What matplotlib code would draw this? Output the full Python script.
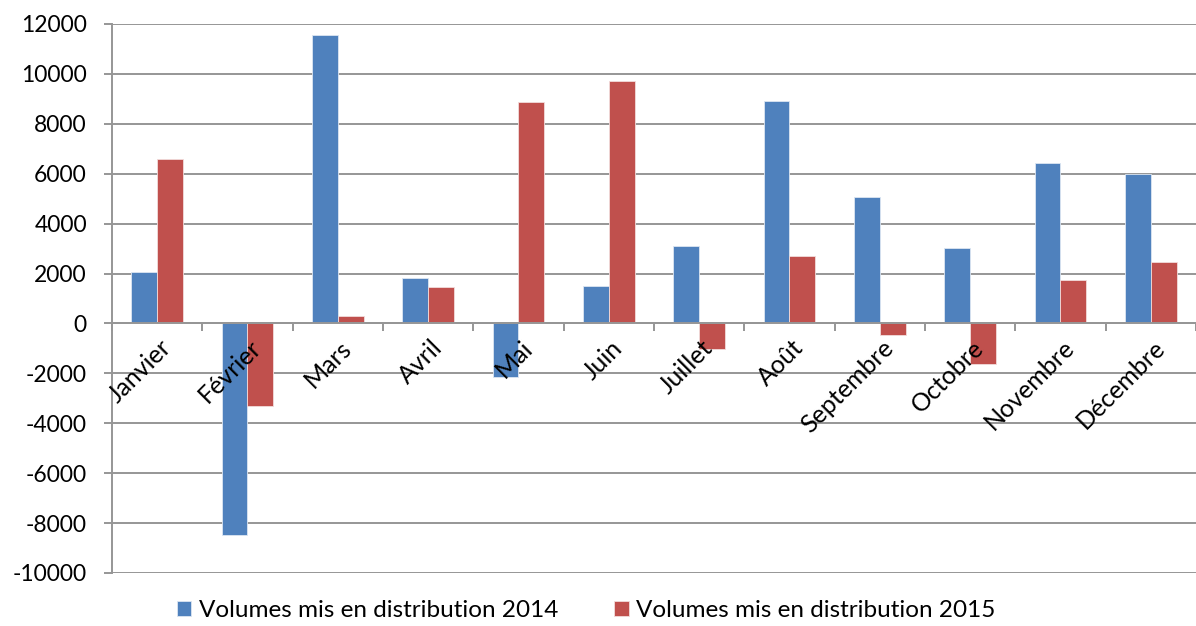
import matplotlib
matplotlib.use("Agg")
import matplotlib.pyplot as plt
import matplotlib.transforms as mtransforms
import numpy as np

months = ["Janvier", "Février", "Mars", "Avril", "Mai", "Juin", "Juillet",
          "Août", "Septembre", "Octobre", "Novembre", "Décembre"]
vol_2014 = [2070, -8480, 11560, 1820, -2140, 1480, 3090, 8930, 5070, 3020, 6420, 5970]
vol_2015 = [6600, -3320, 290, 1460, 8860, 9700, -1015, 2710, -480, -1630, 1740, 2470]
series_labels = ["Volumes mis en distribution 2014", "Volumes mis en distribution 2015"]
y_ticks = list(range(-10000, 12001, 2000))

BLUE = "#4F81BD"
RED = "#C0504D"
GRID = "#969696"

plt.rcParams["font.family"] = ["Lato", "DejaVu Sans"]

fig = plt.figure(figsize=(11.96, 6.26), dpi=100)
ax = fig.add_axes([0.0936, 0.0847, 0.9064, 0.877])

x = np.arange(len(months))
w = 0.287
b1 = ax.bar(x - w / 2, vol_2014, w, color=BLUE, edgecolor="#dce6f2", lw=0.6,
            label=series_labels[0], zorder=3)
b2 = ax.bar(x + w / 2, vol_2015, w, color=RED, edgecolor="#f2dcdb", lw=0.6,
            label=series_labels[1], zorder=3)

ax.set_xlim(-0.5, len(months) - 0.5)
ax.set_ylim(-10000, 12000)
ax.set_yticks(y_ticks)
ax.set_yticklabels([str(v) for v in y_ticks], fontsize=16.5)
ax.yaxis.grid(True, color=GRID, lw=1.4, zorder=0)
ax.set_axisbelow(True)

for s in ["top", "right"]:
    ax.spines[s].set_visible(False)
ax.spines["left"].set_color(GRID)
ax.spines["left"].set_linewidth(1.4)
ax.spines["bottom"].set_position(("data", 0))
ax.spines["bottom"].set_color(GRID)
ax.spines["bottom"].set_linewidth(1.4)
ax.spines["bottom"].set_zorder(4)

# category boundaries as ticks
ax.set_xticks(np.arange(-0.5, len(months), 1.0))
ax.set_xticklabels([])
ax.tick_params(axis="x", which="major", direction="out", length=6,
               color=GRID, width=1.4)
ax.tick_params(axis="y", direction="out", length=6, color=GRID, width=1.4, pad=12)

# month labels drawn on top of the bars
offset = mtransforms.ScaledTranslation(0.02, -9 / 72, fig.dpi_scale_trans)
for i, m in enumerate(months):
    ax.text(i, 0, m, transform=ax.transData + offset, rotation=45,
            ha="right", va="top", rotation_mode="anchor", fontsize=18,
            zorder=10, clip_on=False)

fig.legend(handles=[b1, b2], loc="lower center", bbox_to_anchor=(0.49, -0.027),
           ncol=2, frameon=False, fontsize=17.5, handlelength=0.6,
           handleheight=0.6, handletextpad=0.3, columnspacing=2.3)

fig.savefig("out.png", dpi=100)
